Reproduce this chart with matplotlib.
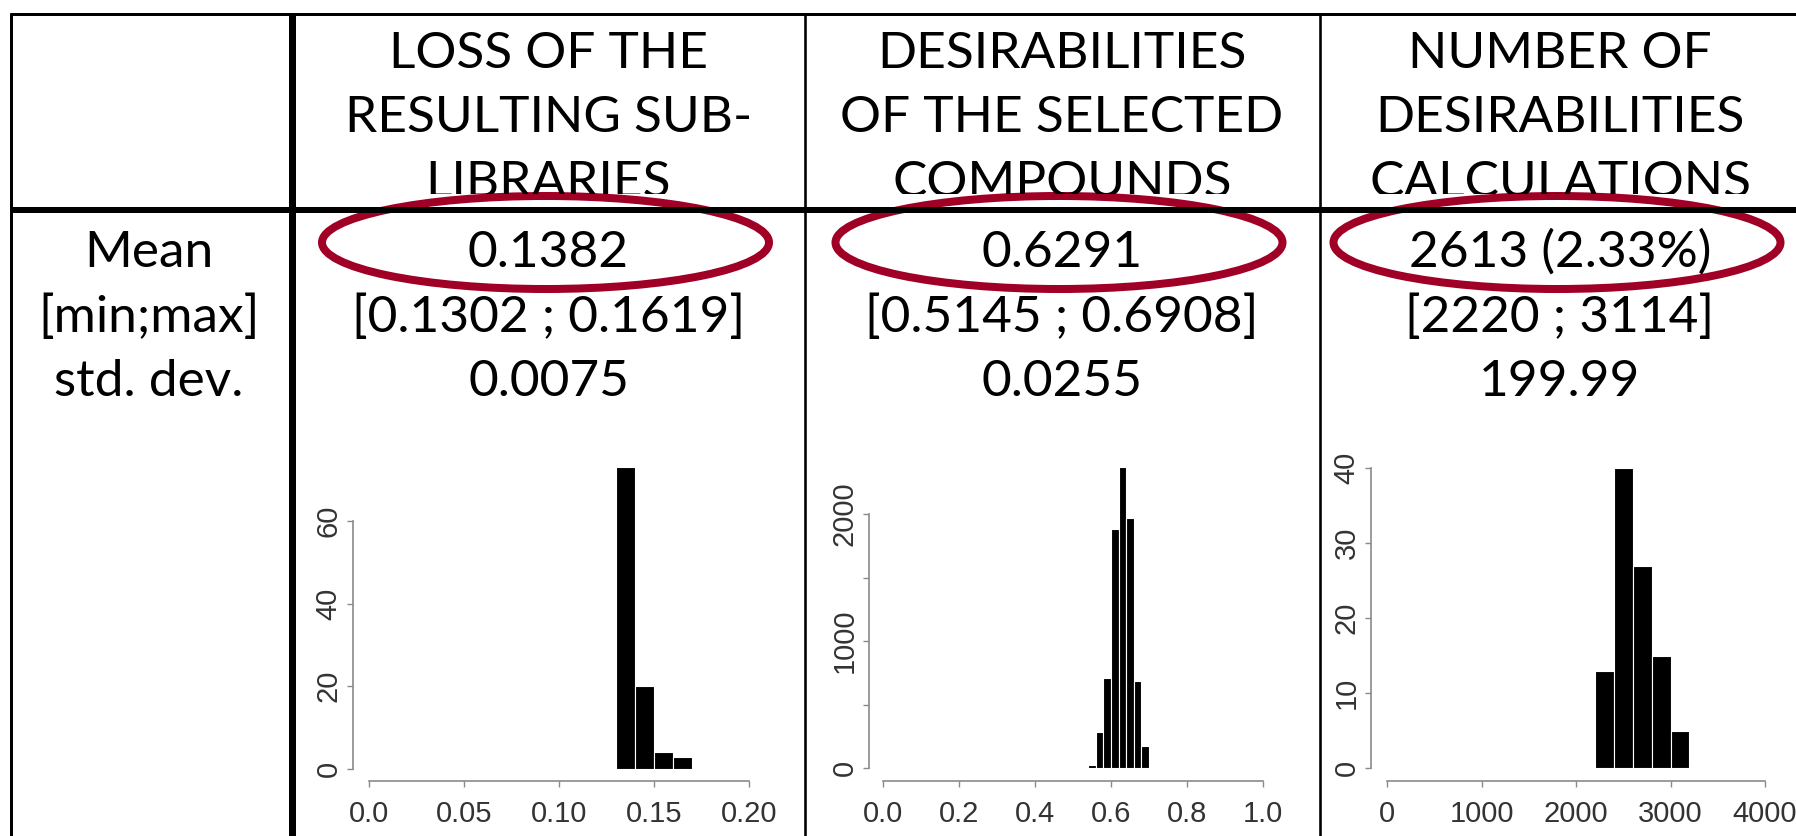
import matplotlib.pyplot as plt
import numpy as np
from matplotlib.patches import Ellipse
from matplotlib.transforms import Bbox, TransformedBbox

# table text
row_names = ['Mean', '[min;max]', 'std. dev.']
headers = [['LOSS OF THE', 'RESULTING SUB-', 'LIBRARIES'],
           ['DESIRABILITIES', 'OF THE SELECTED', 'COMPOUNDS'],
           ['NUMBER OF', 'DESIRABILITIES', 'CALCULATIONS']]
mean_txt = ['0.1382', '0.6291', '2613 (2.33%)']
range_txt = ['[0.1302 ; 0.1619]', '[0.5145 ; 0.6908]', '[2220 ; 3114]']
std_txt = ['0.0075', '0.0255', '199.99']

# histogram data (bin edges and counts)
loss_edges = [0.13, 0.14, 0.15, 0.16, 0.17]
loss_counts = [73, 20, 4, 3]
des_edges = [0.54, 0.56, 0.58, 0.60, 0.62, 0.64, 0.66, 0.68, 0.70]
des_counts = [25, 285, 710, 1880, 2370, 1970, 685, 170]
calc_edges = [2200, 2400, 2600, 2800, 3000, 3200]
calc_counts = [13, 40, 27, 15, 5]

x_ticks = [[0.0, 0.05, 0.10, 0.15, 0.20],
           [0.0, 0.2, 0.4, 0.6, 0.8, 1.0],
           [0, 1000, 2000, 3000, 4000]]
x_labels = [['0.0', '0.05', '0.10', '0.15', '0.20'],
            ['0.0', '0.2', '0.4', '0.6', '0.8', '1.0'],
            ['0', '1000', '2000', '3000', '4000']]
y_ticks = [[0, 20, 40, 60], [0, 500, 1000, 1500, 2000], [0, 10, 20, 30, 40]]
y_labels = [['0', '20', '40', '60'], ['0', '', '1000', '', '2000'],
            ['0', '10', '20', '30', '40']]

W, H = 1796, 836
PT = 0.72  # points per pixel at dpi 100

fig = plt.figure(figsize=(W / 100, H / 100), dpi=100)

# full-figure axes in pixel coordinates for the table
tab = fig.add_axes([0, 0, 1, 1])
tab.set_xlim(0, W)
tab.set_ylim(H, 0)
tab.axis('off')

# grid lines
tab.plot([10, W], [14, 14], color='k', lw=3 * PT, solid_capstyle='butt')
tab.plot([10, W], [210, 210], color='k', lw=6 * PT, solid_capstyle='butt')
tab.plot([10.5, 10.5], [13, H], color='k', lw=3 * PT, solid_capstyle='butt')
tab.plot([291.5, 291.5], [13, H], color='k', lw=7 * PT, solid_capstyle='butt')
for xv in [804.5, 1319.5]:
    tab.plot([xv, xv], [13, H], color='k', lw=2.6 * PT, solid_capstyle='butt')

col_x = [149, 548.5, 1062, 1560]
font = dict(family=['Lato', 'DejaVu Sans'], weight='normal', size=37,
            color='black', ha='center', va='baseline')

head_base = [68, 132, 197]
clip = TransformedBbox(Bbox([[0, 14], [W, 194]]), tab.transData)
for c, lines in enumerate(headers):
    for yb, line in zip(head_base, lines):
        t = tab.text(col_x[c + 1], yb, line, clip_on=True, **font)
        t.set_clip_box(clip)
        t.set_clip_path(None)

row_base = [267, 332, 396]
for yb, name in zip(row_base, row_names):
    tab.text(col_x[0], yb, name, **font)
for c in range(3):
    for yb, s in zip(row_base, [mean_txt[c], range_txt[c], std_txt[c]]):
        tab.text(col_x[c + 1], yb, s, **font)

# red ellipses round the means
for c in range(3):
    tab.add_patch(Ellipse((col_x[c + 1] - 3, 242.5), 447, 93, fill=False,
                          edgecolor='#A10026', lw=8 * PT))

# histograms
hists = [(loss_edges, loss_counts), (des_edges, des_counts), (calc_edges, calc_counts)]
pos = [(369, 749), (883, 1263), (1387, 1765)]
base_y = [769, 768, 768]
ytop = [80, 2600, 44]
xlims = [(0, 0.2), (0, 1), (0, 4000)]
out_left = [16, 14, 16]
out_bottom = [12, 13, 13]
top_px = 438

for i, (edges, counts) in enumerate(hists):
    x0, x1 = pos[i]
    ax = fig.add_axes([x0 / W, 1 - base_y[i] / H, (x1 - x0) / W, (base_y[i] - top_px) / H])
    ax.patch.set_visible(False)
    ax.bar(edges[:-1], counts, width=np.diff(edges), align='edge',
           color='black', edgecolor='white', linewidth=0.8)
    ax.set_xlim(*xlims[i])
    ax.set_ylim(0, ytop[i])
    for s in ['top', 'right']:
        ax.spines[s].set_visible(False)
    ax.spines['left'].set_position(('outward', out_left[i] * PT))
    ax.spines['bottom'].set_position(('outward', out_bottom[i] * PT))
    ax.spines['left'].set_bounds(y_ticks[i][0], y_ticks[i][-1])
    ax.spines['bottom'].set_bounds(x_ticks[i][0], x_ticks[i][-1])
    for s in ['left', 'bottom']:
        ax.spines[s].set_color('#8a8a8a')
        ax.spines[s].set_linewidth(1.2)
    ax.set_xticks(x_ticks[i])
    ax.set_xticklabels(x_labels[i], family='Liberation Sans', fontsize=21, color='#333333')
    ax.set_yticks(y_ticks[i])
    ax.set_yticklabels(y_labels[i], family='Liberation Sans', fontsize=21, color='#333333',
                       rotation=90, va='center')
    ax.tick_params(axis='x', length=6 * PT, width=1, color='#8a8a8a', pad=9)
    ax.tick_params(axis='y', length=6 * PT, width=1, color='#8a8a8a', pad=3)

fig.savefig('out.png', dpi=100)
